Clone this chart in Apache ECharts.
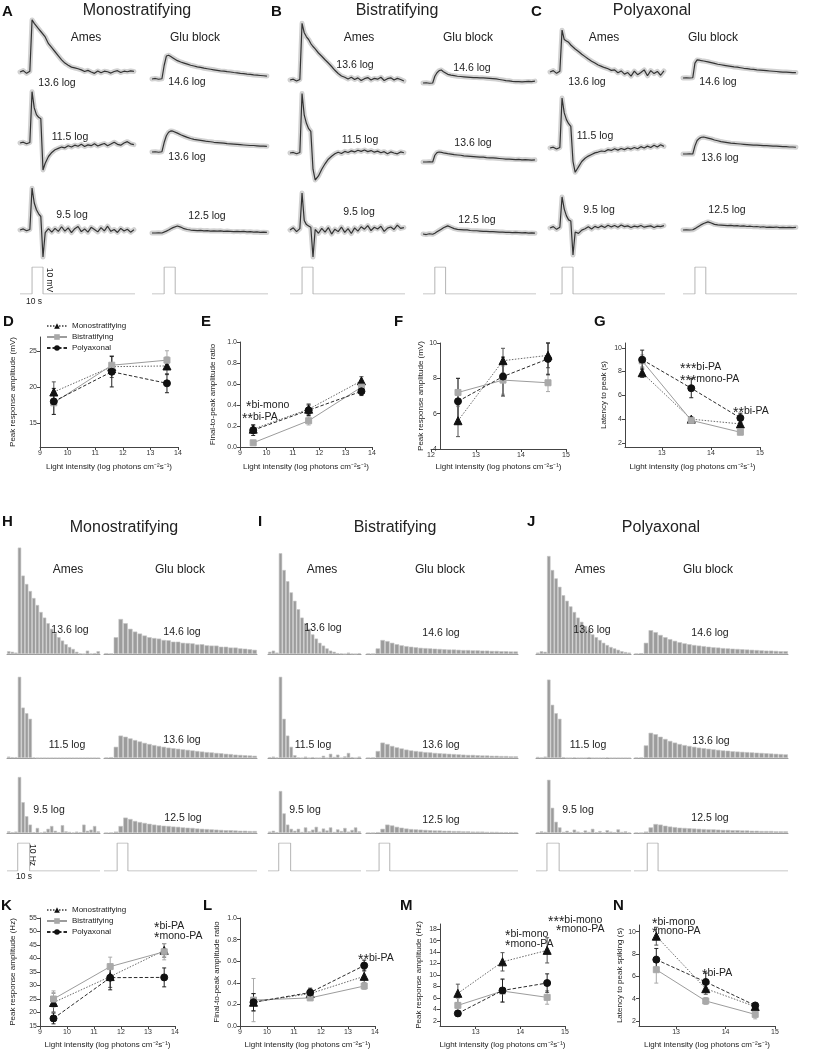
<!DOCTYPE html>
<html><head><meta charset="utf-8">
<script src="https://cdn.jsdelivr.net/npm/echarts@6/dist/echarts.min.js"></script>
<style>html,body{margin:0;padding:0;background:#fff}#c{width:813px;height:1050px}</style>
</head><body><div id="c"></div>
<script>
// ---------------- DATA ----------------
// Voltage traces (mV relative to baseline), sampled at TRACE_T (s)
const TRACE_T = [0,3,6,9,10.8, 11,13,15,17,19,20.8, 21,23,26,29,32,35,38,41,44,47,50,53,56,59,62,65,68,71,74,77,80,83,86,89,92,95,98,101,104];
const A_AMES_136 = [0,0.5,-0.5,0.3,0, 19.3,18,17,16,15,14.3, 14.2,13,10.5,9,7.5,6,4.5,3.3,2.5,1.8,1.5,1.2,0.8,0.2,0.6,0,-0.5,0.4,-0.3,0.3,0.1,-0.4,0.2,0.5,-0.2,0.3,0.1,0.4,0.2];
const A_AMES_115 = [0,0.3,-0.3,0.2,0, 19,13,10.5,9.5,9,8.5, -10,-7.5,-5,-3.5,-2.5,-2,-1.5,-1.8,-1,-1.5,-0.8,-1.2,-0.5,-1.3,-0.7,-1,-0.3,-1.1,-0.6,-0.2,-1,-0.4,0.3,-0.5,-0.8,0,0.5,-0.3,-0.6];
const A_AMES_95  = [0,0.4,-0.3,0.2,0, 15.5,10,7.5,6,5,4.4, -10,-1,0.5,-0.8,0.6,-0.5,1.2,-0.4,0.8,-1,0.5,1.3,-0.6,0.4,-0.8,1,0.2,-0.7,0.9,-0.3,1.4,-0.5,0.2,-0.9,0.6,-0.4,0.3,-0.8,0.1];
const A_GLU_146  = [0,0.2,-0.1,0.1,0, 5,8.5,8.8,8.3,7.8,7.3, 7.2,6.8,6.3,5.9,5.5,5.1,4.8,4.5,4.3,4,3.8,3.6,3.4,3.2,3,2.9,2.7,2.6,2.4,2.3,2.1,2,1.8,1.7,1.5,1.4,1.3,1.2,1.1];
const A_GLU_136  = [0,0.1,-0.1,0.1,0, 3.5,6,7.3,7.8,7.7,7.4, 7.3,7,6.4,5.9,5.4,5,4.7,4.5,4.3,4.1,3.9,3.8,3.6,3.5,3.4,3.3,3.1,3,2.9,2.8,2.7,2.6,2.5,2.4,2.4,2.3,2.2,2.2,2.1];
const A_GLU_125  = [0,0,0.1,0,0.1, 0.3,0.7,1.1,1.6,2,2.4, 2.5,2.6,2.2,1.6,1.3,1.1,1,0.9,1,0.8,0.9,0.7,0.8,0.7,0.8,0.6,0.7,0.6,0.5,0.6,0.5,0.6,0.4,0.5,0.3,0.4,0.2,0.3,0.2];
const B_AMES_136 = [0,0.3,-0.4,0.2,0, 21,17.5,16,15,13.5,12.5, 12.3,11.5,10,8.8,7.5,6.3,5,3.6,2.4,1.5,1,0.4,1,0.2,0.8,-0.2,0.5,0.9,0,0.6,0.3,1,-0.2,0.5,0.8,0,0.6,0.2,-0.4];
const B_AMES_115 = [0,0.2,-0.3,0.2,0, 22,14,11,9,8,7.4, -6,-10,-8.5,-6,-4,-2.3,-1.2,-0.3,0.3,-0.2,0.6,0.2,0.8,0.4,1,0.6,1.1,0.5,0.9,0.3,0.7,0.1,0.5,-0.3,0.4,0,-0.3,0.4,0.1];
const B_AMES_95  = [0,0.8,-0.6,0.5,0, 13.7,3.5,2,1.5,1,0.5, -10,0.2,-1.2,0.6,-0.8,0.9,-1.5,0.3,-0.6,1.1,-0.9,0.5,-1.3,0.8,-0.4,1.2,0.3,1.6,-0.2,1,0.4,1.4,-0.5,0.7,1.1,0.2,1.8,0.6,0.9];
const B_GLU_146  = [0,0.1,-0.1,0,0, 2.5,3.8,4.6,4.8,4.2,3.6, 3.5,3.2,2.9,2.7,2.5,2.4,2.3,2.2,2.1,2,2,1.9,1.9,1.8,1.7,1.6,1.5,1.3,1.1,0.9,0.8,0.6,0.5,0.5,0.4,0.5,0.6,0.5,0.7];
const B_GLU_136  = [0,0,0.1,0,0, 2.5,3.5,3.7,3.6,3.4,3.3, 3.3,3.1,2.9,2.7,2.6,2.5,2.3,2.2,2.1,2,1.9,1.8,1.8,1.6,1.5,1.5,1.4,1.3,1.2,1.1,1.1,1,0.9,1,0.8,0.9,0.8,0.7,0.8];
const B_GLU_125  = [0,-0.2,0.1,-0.1,0, 0.3,0.8,1.3,1.8,2.3,2.7, 2.8,3,2.5,2,1.7,1.6,1.5,1.5,1.3,1.2,1.2,1.1,1,1,0.9,0.9,0.8,0.7,0.7,0.6,0.6,0.5,0.6,0.5,0.4,0.5,0.3,0.4,0.3];
const C_AMES_136 = [0,0.5,-0.5,0.3,0, 15.5,12,11.5,11,10,9.3, 9.2,8.5,7.6,6.6,5.7,4.8,4,3.3,2.6,2.1,1.6,1.2,0.6,0.8,-0.3,0.4,-0.8,-0.2,-1.5,0.3,-1,-0.2,0.8,-1.4,0.5,-0.6,0.2,-1.2,0.4];
const C_AMES_115 = [0,0.3,-0.4,0.2,0, 18.5,13,10.5,9,8,7.4, -5,-9,-7,-5,-3.8,-3,-2.4,-1.8,-1.5,-1.1,-1.3,-0.6,-0.9,-0.3,-0.8,-0.2,-0.6,0,-0.4,0.2,-0.3,0.5,0,0.7,0.2,1,0.4,1.2,0.6];
const C_AMES_95  = [0,0.5,-0.5,0.3,0, 11.5,7,4.5,3,2.6,2.3, -10,-1.5,-2,-0.8,-0.3,0.5,-0.4,0.6,0.1,0.8,0.2,1,0.4,0.9,0.3,1.1,0.5,0.8,0.2,0.7,0.4,0.9,0.3,0.6,0.8,0.2,0.7,0.5,0.9];
const C_GLU_146  = [0,0.1,0,0.1,0, 5.5,6.7,6.6,6.4,6.3,6.2, 6.2,6,5.7,5.4,5.1,4.9,4.7,4.5,4.3,4.1,4,3.8,3.6,3.5,3.3,3.2,3,2.9,2.8,2.7,2.6,2.5,2.4,2.3,2.2,2.2,2.1,2,2];
const C_GLU_136  = [0,0,0.1,0,0, 3,5,5.8,6.2,6.3,6.2, 6.1,5.9,5.6,5.2,4.9,4.6,4.4,4.2,4,3.9,3.8,3.7,3.6,3.5,3.4,3.3,3.3,3.2,3.1,3.1,3,2.9,2.9,2.8,2.7,2.7,2.6,2.6,2.5];
const C_GLU_125  = [0,0.1,0,0.1,0, 0.5,1,1.5,2,2.4,2.7, 2.8,3,2.6,2.1,1.9,1.8,1.7,1.6,1.7,1.5,1.6,1.4,1.5,1.3,1.4,1.2,1.3,1.1,1.2,1,1.1,1,1.1,0.9,1,0.9,1,0.9,1];
const TRACE_STIM_T = [0,11,11,21,21,105];
const STIM_V = [0,0,1,1,0,0];

// Spike-rate histograms (Hz) per time bin
const AMES_BINS = [0,3,6,9,12,15,18,21,24,27,30,33,36,39,42,45,48,51,54,57,60,63,66,69,72,75];
const GLU_BINS = [0,4,8,12,16,20,24,28,32,36,40,44,48,52,56,60,64,68,72,76,80,84,88,92,96,100,104,108,112,116,120,124];
const H_AMES_136 = [1,0.8,0.5,38,28,25,22.5,20,17.5,15,13,11,9,7.5,6,4.8,3.5,2.5,1.8,0.8,0.2,0,1.2,0.1,0.3,1];
const H_AMES_115 = [0.5,0.3,0.3,29,18,16,14,0.2,0,0,0,0,0,0,0,0,0,0,0,0,0,0,0,0,0,0];
const H_AMES_95  = [0.6,0.3,0.5,20,11,6,3,0.3,1.8,0.2,0.5,1.5,2.5,0.8,0.3,2.8,0.6,0.4,0.2,0.5,0.3,3,0.8,1.2,2.5,0.6];
const H_GLU_146  = [0.3,0.2,6,12.5,11,9,8,7.3,6.6,6,5.7,5.5,5,4.9,4.4,4.4,4,3.9,3.8,3.4,3.5,3.1,3,3,2.6,2.6,2.3,2.3,2,1.9,1.7,1.5];
const H_GLU_136  = [0.2,0.3,4,8,7.6,7,6.4,5.9,5.4,5,4.6,4.3,4,3.7,3.5,3.3,3.1,2.9,2.7,2.5,2.3,2.1,2,1.8,1.7,1.5,1.4,1.2,1.1,1,0.9,0.8];
const H_GLU_125  = [0.1,0.2,0.5,2.5,5.5,5,4.3,3.9,3.6,3.3,3,2.8,2.6,2.5,2.3,2.2,2,1.9,1.8,1.6,1.5,1.4,1.3,1.2,1.1,1,1,0.9,0.8,0.8,0.7,0.7];
const I_AMES_136 = [0.8,1.2,0.5,36,30,26,22,19,16,13,11,9,7,5.5,4,3,2,1.2,0.8,0.3,0.2,0,0.5,0.1,0,0.3];
const I_AMES_115 = [0.3,0.5,0.2,29,14,8,4,1,0.2,0,0.5,0,0.3,0,0,0.8,0,1.5,0.4,1.2,0,0.6,1.8,0.3,0,0.5];
const I_AMES_95  = [0.5,0.8,0.3,15,7,3,1.5,0.8,1.5,0.4,2,0.6,1.2,2.2,0.5,1.6,0.9,2,0.4,1.3,0.7,1.8,0.5,1.1,2,0.6];
const I_GLU_146  = [0.2,0.1,2,5,4.6,4,3.5,3.1,2.8,2.6,2.4,2.2,2.1,2,1.9,1.8,1.7,1.6,1.6,1.5,1.4,1.4,1.3,1.3,1.2,1.2,1.1,1.1,1,1,0.9,0.9];
const I_GLU_136  = [0.1,0.2,2.5,5.5,5,4.3,3.8,3.4,3,2.7,2.5,2.3,2.1,2,1.8,1.7,1.6,1.5,1.4,1.3,1.2,1.1,1.1,1,0.9,0.9,0.8,0.8,0.7,0.7,0.6,0.6];
const I_GLU_125  = [0.1,0.1,0.3,1.5,3,2.7,2.2,1.9,1.6,1.4,1.3,1.2,1.1,1,0.9,0.9,0.8,0.8,0.7,0.7,0.6,0.6,0.5,0.5,0.5,0.4,0.4,0.4,0.3,0.3,0.3,0.3];
const J_AMES_136 = [0.5,1,0.8,35,30,27,24,21,19,17,15,13,11.5,10,8.5,7,6,5,4,3.2,2.5,2,1.5,1,0.7,0.5];
const J_AMES_115 = [0.4,0.2,0.5,28,19,16,14,0.3,0,0,0.2,0,0,0,0.3,0,0,0,0,0.2,0,0,0,0,0,0];
const J_AMES_95  = [0.3,0.6,0.4,19,9,4,2,0.4,0.8,0.3,1.2,0.5,0.2,0.9,0.4,1.5,0.3,0.7,0.2,1,0.5,0.3,1.3,0.4,0.6,0.2];
const J_GLU_146  = [0.2,0.3,4,8.5,7.8,6.8,6,5.3,4.7,4.2,3.8,3.5,3.2,3,2.8,2.6,2.4,2.3,2.1,2,1.9,1.8,1.7,1.6,1.5,1.4,1.3,1.2,1.2,1.1,1,1];
const J_GLU_136  = [0.2,0.2,4.5,9,8.5,7.6,6.8,6.1,5.5,5,4.6,4.3,4,3.7,3.5,3.3,3.1,2.9,2.7,2.6,2.4,2.3,2.2,2.1,2,1.9,1.8,1.7,1.6,1.5,1.4,1.3];
const J_GLU_125  = [0.2,0.1,0.5,2,3.2,3,2.6,2.3,2.1,1.9,1.8,1.7,1.6,1.5,1.4,1.3,1.3,1.2,1.1,1.1,1,1,0.9,0.9,0.8,0.8,0.7,0.7,0.7,0.6,0.6,0.6];
const HIST_AMES_STIM_T = [0,9,9,19,19,78];
const HIST_GLU_STIM_T = [0,11,11,20,20,128];

// Summary plots
const X_LOW = [9.5, 11.6, 13.6];
const X_HIGH = [12.6, 13.6, 14.6];
const D_MONO = [19.3, 22.8, 22.9], D_MONO_SEM = [1.4, 1.5, 1.2];
const D_BI   = [17.8, 23.0, 23.7], D_BI_SEM   = [1.6, 1.3, 1.3];
const D_PA   = [18.0, 22.1, 20.5], D_PA_SEM   = [1.8, 2.1, 1.3];
const E_MONO = [0.17, 0.36, 0.63], E_MONO_SEM = [0.04, 0.05, 0.04];
const E_BI   = [0.04, 0.25, 0.57], E_BI_SEM   = [0.01, 0.04, 0.05];
const E_PA   = [0.16, 0.35, 0.53], E_PA_SEM   = [0.05, 0.05, 0.04];
const F_MONO = [5.6, 9.0, 9.3],    F_MONO_SEM = [0.9, 0.7, 0.7];
const F_BI   = [7.2, 7.9, 7.75],   F_BI_SEM   = [0.8, 0.8, 0.5];
const F_PA   = [6.7, 8.1, 9.1],    F_PA_SEM   = [1.3, 1.1, 0.9];
const G_MONO = [7.9, 4.0, 3.6],    G_MONO_SEM = [0.4, 0.2, 0.3];
const G_BI   = [8.9, 3.9, 2.9],    G_BI_SEM   = [0.5, 0.2, 0.2];
const G_PA   = [9.0, 6.6, 4.1],    G_PA_SEM   = [0.8, 0.8, 0.4];
const K_MONO = [23.7, 33.3, 43.0], K_MONO_SEM = [3.5, 4, 2.5];
const K_BI   = [25.0, 37.0, 42.5], K_BI_SEM   = [3, 3.5, 3];
const K_PA   = [17.8, 32.9, 33.0], K_PA_SEM   = [2, 4.5, 3.5];
const L_MONO = [0.22, 0.30, 0.46], L_MONO_SEM = [0.08, 0.04, 0.06];
const L_BI   = [0.24, 0.26, 0.37], L_BI_SEM   = [0.2, 0.02, 0.03];
const L_PA   = [0.22, 0.31, 0.56], L_PA_SEM   = [0.08, 0.04, 0.05];
const M_MONO = [6.8, 12.3, 14.3],  M_MONO_SEM = [1.6, 1.6, 2.2];
const M_BI   = [4.7, 7.2, 6.1],    M_BI_SEM   = [1.2, 2.0, 1.2];
const M_PA   = [3.3, 7.3, 8.6],    M_PA_SEM   = [0.5, 2.0, 1.6];
const N_MONO = [9.6, 4.9, 3.3],    N_MONO_SEM = [0.8, 0.5, 0.2];
const N_BI   = [6.6, 3.8, 2.6],    N_BI_SEM   = [1.2, 0.3, 0.4];
const N_PA   = [7.5, 5.5, 3.4],    N_PA_SEM   = [1.0, 0.8, 0.2];
// tick labels
const TICKS_D_Y = [15, 20, 25];
const TICKS_HIGH_X = [13, 14, 15];
const TICKS_G_Y = [2, 4, 6, 8, 10];
const TICKS_M_Y = [2, 4, 6, 8, 10, 12, 14, 16, 18];
const TICKS_N_Y = [2, 4, 6, 8, 10];
const NAMES = ['Monostratifying', 'Bistratifying', 'Polyaxonal'];

// ---------------- BUILD ----------------
const FONT = 'Arial, "Liberation Sans", sans-serif';
const grid = [], xAxis = [], yAxis = [], series = [], graphic = [];
function addGrid(rect, xa, ya) {
  const i = grid.length;
  grid.push(Object.assign({containLabel: false}, rect));
  xAxis.push(Object.assign({gridIndex: i}, xa));
  yAxis.push(Object.assign({gridIndex: i}, ya));
  return i;
}
function txt(text, x, y, o) {
  o = o || {};
  const st = {text: text, fill: o.color || '#222',
    font: (o.bold ? 'bold ' : '') + (o.size || 10) + 'px ' + FONT,
    align: o.align || 'center', verticalAlign: 'middle',
    textAlign: o.align || 'center', textVerticalAlign: 'middle'};
  graphic.push({type: 'text', x: x, y: y, rotation: o.rot || 0, silent: true, z: 10, style: st});
}
function star(stars, label, x, y) {
  graphic.push({type: 'text', x: x, y: y, silent: true, z: 10, style: {
    text: '{s|' + stars + '}{t|' + label + '}', align: 'left', verticalAlign: 'middle',
    textAlign: 'left', textVerticalAlign: 'middle',
    rich: {s: {fontSize: 14, fontFamily: FONT, fill: '#222', padding: [4, 0, 0, 0]},
           t: {fontSize: 10.5, fontFamily: FONT, fill: '#222'}}}});
}

// --- voltage traces (A-C)
const TR_YMIN = -12, TR_YMAX = 22, TR_PX = 2.7, TR_TMAX = 105;
const TRACE_LAYOUT = [
  {left: 20,  width: 115, base: [72, 143, 230], rows: [A_AMES_136, A_AMES_115, A_AMES_95]},
  {left: 152, width: 116, base: [79, 152, 233], rows: [A_GLU_146, A_GLU_136, A_GLU_125]},
  {left: 290, width: 115, base: [80, 153, 230], rows: [B_AMES_136, B_AMES_115, B_AMES_95]},
  {left: 423, width: 113, base: [83, 162, 234], rows: [B_GLU_146, B_GLU_136, B_GLU_125]},
  {left: 550, width: 115, base: [72, 148, 228], rows: [C_AMES_136, C_AMES_115, C_AMES_95]},
  {left: 683, width: 114, base: [78, 154, 230], rows: [C_GLU_146, C_GLU_136, C_GLU_125]}
];
function stimPanel(left, width, top, height, times, tmax) {
  const gi = addGrid({left: left, width: width, top: top, height: height},
    {type: 'value', show: false, min: 0, max: tmax},
    {type: 'value', show: false, min: 0, max: 1});
  series.push({type: 'line', xAxisIndex: gi, yAxisIndex: gi, data: times.map((t, k) => [t, STIM_V[k]]),
    symbol: 'none', lineStyle: {color: '#b4b4b4', width: 1}, silent: true});
}
TRACE_LAYOUT.forEach(col => {
  col.rows.forEach((vals, ri) => {
    const base = col.base[ri];
    const gi = addGrid({left: col.left, width: col.width, top: base - TR_YMAX * TR_PX, height: (TR_YMAX - TR_YMIN) * TR_PX},
      {type: 'value', show: false, min: 0, max: TR_TMAX},
      {type: 'value', show: false, min: TR_YMIN, max: TR_YMAX});
    const d = TRACE_T.map((t, k) => [t, vals[k]]);
    series.push({type: 'line', xAxisIndex: gi, yAxisIndex: gi, data: d, symbol: 'none',
      lineStyle: {color: '#d2d2d2', width: 5, join: 'round', cap: 'round'}, silent: true});
    series.push({type: 'line', xAxisIndex: gi, yAxisIndex: gi, data: d, symbol: 'none',
      lineStyle: {color: '#333', width: 1.2}, silent: true});
  });
  stimPanel(col.left, col.width, 267, 27, TRACE_STIM_T, TR_TMAX);
});

// --- histograms (H-J)
const H_YMAX = 45, H_PX = 2.8;
const HIST_LAYOUT = [
  {left: 7,   width: 93,  bins: AMES_BINS, stim: HIST_AMES_STIM_T, tmax: 78,  rows: [H_AMES_136, H_AMES_115, H_AMES_95]},
  {left: 104, width: 153, bins: GLU_BINS,  stim: HIST_GLU_STIM_T,  tmax: 128, rows: [H_GLU_146, H_GLU_136, H_GLU_125]},
  {left: 268, width: 93,  bins: AMES_BINS, stim: HIST_AMES_STIM_T, tmax: 78,  rows: [I_AMES_136, I_AMES_115, I_AMES_95]},
  {left: 366, width: 152, bins: GLU_BINS,  stim: HIST_GLU_STIM_T,  tmax: 128, rows: [I_GLU_146, I_GLU_136, I_GLU_125]},
  {left: 536, width: 95,  bins: AMES_BINS, stim: HIST_AMES_STIM_T, tmax: 78,  rows: [J_AMES_136, J_AMES_115, J_AMES_95]},
  {left: 634, width: 154, bins: GLU_BINS,  stim: HIST_GLU_STIM_T,  tmax: 128, rows: [J_GLU_146, J_GLU_136, J_GLU_125]}
];
const HIST_BASE = [654, 758, 833];
HIST_LAYOUT.forEach(col => {
  col.rows.forEach((vals, ri) => {
    const base = HIST_BASE[ri];
    const gi = addGrid({left: col.left, width: col.width, top: base - H_YMAX * H_PX, height: H_YMAX * H_PX},
      {type: 'category', data: col.bins, axisLine: {show: true, lineStyle: {color: '#9a9a9a', width: 1}},
        axisTick: {show: false}, axisLabel: {show: false}, splitLine: {show: false}},
      {type: 'value', show: false, min: 0, max: H_YMAX});
    series.push({type: 'bar', xAxisIndex: gi, yAxisIndex: gi, data: vals, barCategoryGap: '6%',
      itemStyle: {color: '#9c9c9c', borderColor: '#c4c4c4', borderWidth: 0.6}, silent: true});
  });
  stimPanel(col.left, col.width, 843, 28, col.stim, col.tmax);
});

// --- summary plots (D-G, K-N)
const STYLE = {
  Monostratifying: {symbol: 'triangle', size: 8, mcol: '#111', lcol: '#6a6a6a', type: [1.5, 1.5], ecol: '#555'},
  Bistratifying:   {symbol: 'rect', size: 6, mcol: '#a9a9a9', lcol: '#9c9c9c', type: 'solid', ecol: '#a9a9a9'},
  Polyaxonal:      {symbol: 'circle', size: 7, mcol: '#111', lcol: '#2a2a2a', type: [3.5, 2], ecol: '#222'}
};
function valueAxis(o) {
  const a = {type: 'value', min: o.min, max: o.max, splitLine: {show: false},
    axisLine: {show: true, onZero: false, lineStyle: {color: '#444', width: 1}},
    axisTick: {show: true, length: 3, lineStyle: {color: '#444'}},
    axisLabel: {fontSize: 7, color: '#333', fontFamily: FONT, margin: 3},
    name: o.name, nameLocation: 'middle', nameGap: o.gap,
    nameTextStyle: {fontSize: 8, color: '#222', fontFamily: FONT}};
  if (o.interval) a.interval = o.interval;
  if (o.ticks) { a.axisLabel.customValues = o.ticks; a.axisTick.customValues = o.ticks; }
  if (o.fmt) a.axisLabel.formatter = o.fmt;
  if (o.offset) a.offset = o.offset;
  return a;
}
const XNAME = 'Light intensity (log photons cm\u207B\u00B2s\u207B\u00B9)';
function plot(cfg) {
  const gi = addGrid(cfg.rect, valueAxis(cfg.x), valueAxis(cfg.y));
  cfg.groups.forEach(g => {
    const s = STYLE[g.name];
    series.push({type: 'custom', xAxisIndex: gi, yAxisIndex: gi, silent: true, clip: false, z: 2,
      data: cfg.xs.map((x, i) => [x, g.vals[i], g.sem[i]]),
      encode: {x: 0, y: 1},
      renderItem: (p, api) => {
        const x = api.value(0), y = api.value(1), e = api.value(2);
        const a = api.coord([x, y + e]), b = api.coord([x, y - e]);
        const st = {stroke: s.ecol, lineWidth: 1};
        return {type: 'group', children: [
          {type: 'line', shape: {x1: a[0], y1: a[1], x2: b[0], y2: b[1]}, style: st},
          {type: 'line', shape: {x1: a[0] - 2, y1: a[1], x2: a[0] + 2, y2: a[1]}, style: st},
          {type: 'line', shape: {x1: b[0] - 2, y1: b[1], x2: b[0] + 2, y2: b[1]}, style: st}]};
      }});
    series.push({type: 'line', name: g.name, xAxisIndex: gi, yAxisIndex: gi, z: 3,
      data: cfg.xs.map((x, i) => [x, g.vals[i]]),
      symbol: s.symbol, symbolSize: s.size, showSymbol: true,
      itemStyle: {color: s.mcol, borderColor: s.mcol}, lineStyle: {color: s.lcol, width: 1, type: s.type}});
  });
}
const fmt1 = v => v.toFixed(1);
plot({rect: {left: 40, top: 337, width: 138, height: 110}, xs: X_LOW,
  x: {min: 9, max: 14, interval: 1, name: XNAME, gap: 16},
  y: {min: 11.7, max: 26.9, ticks: TICKS_D_Y, name: 'Peak response amplitude (mV)', gap: 23},
  groups: [{name: NAMES[0], vals: D_MONO, sem: D_MONO_SEM}, {name: NAMES[1], vals: D_BI, sem: D_BI_SEM}, {name: NAMES[2], vals: D_PA, sem: D_PA_SEM}]});
plot({rect: {left: 240, top: 342, width: 132, height: 105}, xs: X_LOW,
  x: {min: 9, max: 14, interval: 1, name: XNAME, gap: 16},
  y: {min: 0, max: 1, interval: 0.2, fmt: fmt1, name: 'Final-to-peak amplitude ratio', gap: 23},
  groups: [{name: NAMES[0], vals: E_MONO, sem: E_MONO_SEM}, {name: NAMES[1], vals: E_BI, sem: E_BI_SEM}, {name: NAMES[2], vals: E_PA, sem: E_PA_SEM}]});
plot({rect: {left: 431, top: 343, width: 135, height: 106}, xs: X_HIGH,
  x: {min: 12, max: 15, interval: 1, name: XNAME, gap: 14},
  y: {min: 4, max: 10, interval: 2, name: 'Peak response amplitude (mV)', gap: 15, offset: -9},
  groups: [{name: NAMES[0], vals: F_MONO, sem: F_MONO_SEM}, {name: NAMES[1], vals: F_BI, sem: F_BI_SEM}, {name: NAMES[2], vals: F_PA, sem: F_PA_SEM}]});
plot({rect: {left: 625, top: 343, width: 135, height: 104}, xs: X_HIGH,
  x: {min: 12.25, max: 15, ticks: TICKS_HIGH_X, name: XNAME, gap: 16},
  y: {min: 1.66, max: 10.4, ticks: TICKS_G_Y, name: 'Latency to peak (s)', gap: 17},
  groups: [{name: NAMES[0], vals: G_MONO, sem: G_MONO_SEM}, {name: NAMES[1], vals: G_BI, sem: G_BI_SEM}, {name: NAMES[2], vals: G_PA, sem: G_PA_SEM}]});
plot({rect: {left: 40, top: 918, width: 135, height: 109}, xs: X_LOW,
  x: {min: 9, max: 14, interval: 1, name: XNAME, gap: 15},
  y: {min: 15, max: 55, interval: 5, name: 'Peak response amplitude (Hz)', gap: 23},
  groups: [{name: NAMES[0], vals: K_MONO, sem: K_MONO_SEM}, {name: NAMES[1], vals: K_BI, sem: K_BI_SEM}, {name: NAMES[2], vals: K_PA, sem: K_PA_SEM}]});
plot({rect: {left: 240, top: 918, width: 135, height: 109}, xs: X_LOW,
  x: {min: 9, max: 14, interval: 1, name: XNAME, gap: 15},
  y: {min: 0, max: 1, interval: 0.2, fmt: fmt1, name: 'Final-to-peak amplitude ratio', gap: 19},
  groups: [{name: NAMES[0], vals: L_MONO, sem: L_MONO_SEM}, {name: NAMES[1], vals: L_BI, sem: L_BI_SEM}, {name: NAMES[2], vals: L_PA, sem: L_PA_SEM}]});
plot({rect: {left: 440, top: 924, width: 125, height: 104}, xs: X_HIGH,
  x: {min: 12.2, max: 15, ticks: TICKS_HIGH_X, name: XNAME, gap: 15},
  y: {min: 1.1, max: 18.9, ticks: TICKS_M_Y, name: 'Peak response amplitude (Hz)', gap: 17},
  groups: [{name: NAMES[0], vals: M_MONO, sem: M_MONO_SEM}, {name: NAMES[1], vals: M_BI, sem: M_BI_SEM}, {name: NAMES[2], vals: M_PA, sem: M_PA_SEM}]});
plot({rect: {left: 639, top: 925, width: 136, height: 103}, xs: X_HIGH,
  x: {min: 12.25, max: 15, ticks: TICKS_HIGH_X, name: XNAME, gap: 15},
  y: {min: 1.56, max: 10.6, ticks: TICKS_N_Y, name: 'Latency to peak spiking (s)', gap: 15},
  groups: [{name: NAMES[0], vals: N_MONO, sem: N_MONO_SEM}, {name: NAMES[1], vals: N_BI, sem: N_BI_SEM}, {name: NAMES[2], vals: N_PA, sem: N_PA_SEM}]});

// --- texts
[['A', 2, 12], ['B', 271, 12], ['C', 531, 12], ['D', 3, 322], ['E', 201, 322], ['F', 394, 322], ['G', 594, 322],
 ['H', 2, 522], ['I', 258, 522], ['J', 527, 522], ['K', 1, 906], ['L', 203, 906], ['M', 400, 906], ['N', 613, 906]]
 .forEach(l => txt(l[0], l[1], l[2], {bold: true, size: 15, align: 'left', color: '#111'}));
[['Monostratifying', 137, 11], ['Bistratifying', 397, 11], ['Polyaxonal', 652, 11],
 ['Monostratifying', 124, 528], ['Bistratifying', 395, 528], ['Polyaxonal', 661, 528]]
 .forEach(l => txt(l[0], l[1], l[2], {size: 16}));
[[86, 38], [359, 38], [604, 38], [68, 570], [322, 570], [590, 570]].forEach(p => txt('Ames', p[0], p[1], {size: 12}));
[[195, 38], [468, 38], [713, 38], [180, 570], [440, 570], [708, 570]].forEach(p => txt('Glu block', p[0], p[1], {size: 12}));
[['13.6 log', 57, 83], ['14.6 log', 187, 82], ['11.5 log', 70, 137], ['13.6 log', 187, 157], ['9.5 log', 72, 215], ['12.5 log', 207, 216],
 ['13.6 log', 355, 65], ['14.6 log', 472, 68], ['11.5 log', 360, 140], ['13.6 log', 473, 143], ['9.5 log', 359, 212], ['12.5 log', 477, 220],
 ['13.6 log', 587, 82], ['14.6 log', 718, 82], ['11.5 log', 595, 136], ['13.6 log', 720, 158], ['9.5 log', 599, 210], ['12.5 log', 727, 210],
 ['13.6 log', 70, 630], ['14.6 log', 182, 632], ['11.5 log', 67, 745], ['13.6 log', 182, 740], ['9.5 log', 49, 810], ['12.5 log', 183, 818],
 ['13.6 log', 323, 628], ['14.6 log', 441, 633], ['11.5 log', 313, 745], ['13.6 log', 441, 745], ['9.5 log', 305, 810], ['12.5 log', 441, 820],
 ['13.6 log', 592, 630], ['14.6 log', 710, 633], ['11.5 log', 588, 745], ['13.6 log', 711, 741], ['9.5 log', 578, 810], ['12.5 log', 710, 818]]
 .forEach(l => txt(l[0], l[1], l[2], {size: 10.5}));
txt('10 mV', 49, 280, {size: 8.5, rot: -Math.PI / 2});
txt('10 s', 34, 302, {size: 8.5});
txt('10 Hz', 32, 855, {size: 8.5, rot: -Math.PI / 2});
txt('10 s', 24, 877, {size: 8.5});
star('*', 'bi-mono', 246, 405); star('**', 'bi-PA', 242, 417);
star('***', 'bi-PA', 680, 367); star('***', 'mono-PA', 680, 379); star('**', 'bi-PA', 733, 411);
star('*', 'bi-PA', 154, 926); star('*', 'mono-PA', 154, 936);
star('**', 'bi-PA', 358, 958);
star('*', 'bi-mono', 505, 934); star('*', 'mono-PA', 505, 944);
star('***', 'bi-mono', 548, 920); star('*', 'mono-PA', 556, 929);
star('*', 'bi-mono', 652, 922); star('*', 'mono-PA', 652, 931); star('*', 'bi-PA', 702, 973);

const legendBase = {orient: 'vertical', itemWidth: 20, itemHeight: 7, itemGap: 3, selectedMode: false,
  textStyle: {fontSize: 8, fontFamily: FONT, color: '#222'}, data: NAMES, padding: 0};
const chart = echarts.init(document.getElementById('c'), null, {renderer: 'canvas'});
chart.setOption({
  animation: false, backgroundColor: '#fff',
  textStyle: {fontFamily: FONT},
  legend: [Object.assign({left: 46, top: 322}, legendBase), Object.assign({left: 46, top: 906}, legendBase)],
  grid: grid, xAxis: xAxis, yAxis: yAxis, series: series, graphic: graphic
});
</script></body></html>
